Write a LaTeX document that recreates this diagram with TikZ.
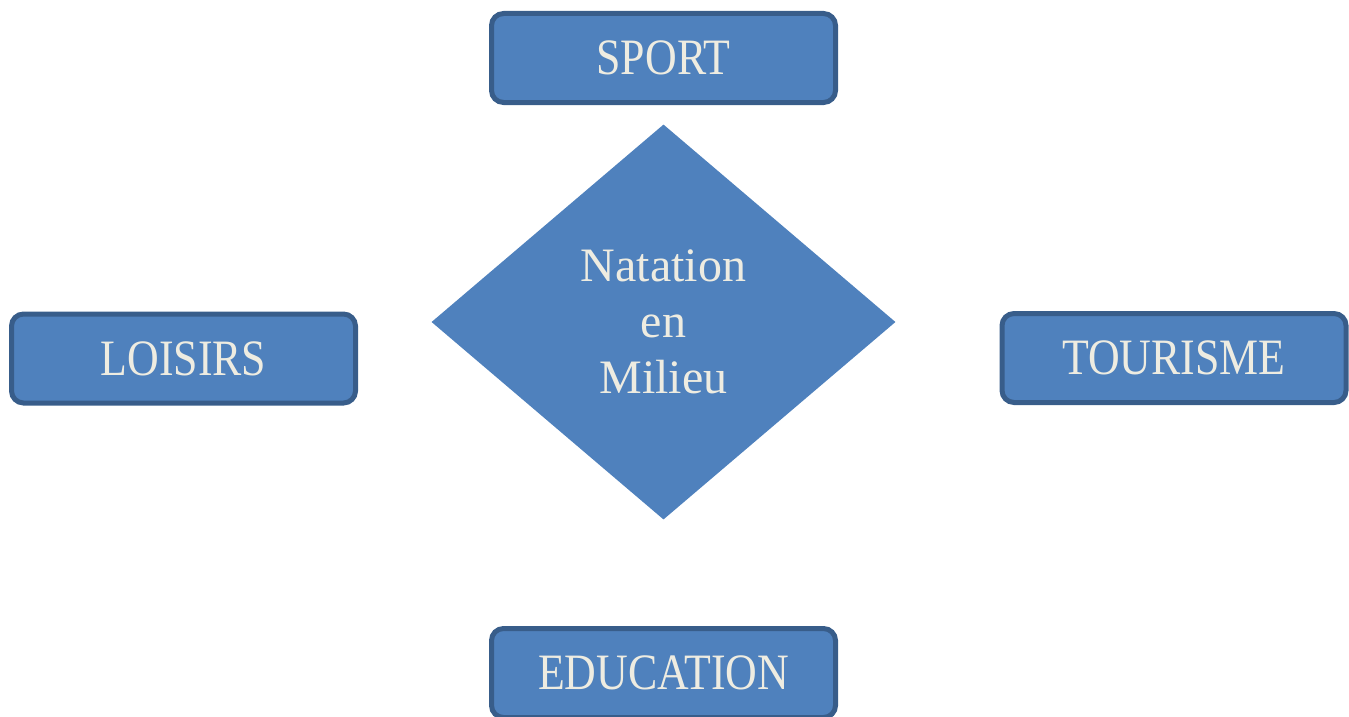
\documentclass[tikz,border=0pt]{standalone}
\usepackage{fontspec}
\setmainfont{Liberation Serif}
\newfontfamily\boxfont[FakeStretch=0.86]{Liberation Serif}
\usetikzlibrary{shapes.geometric}
\definecolor{fillblue}{HTML}{4F81BD}
\definecolor{edgeblue}{HTML}{385D8A}
\definecolor{txtcream}{HTML}{EEECE1}
\tikzset{
  catbox/.style={rectangle, rounded corners=12pt, draw=edgeblue, line width=5pt,
    fill=fillblue, text=txtcream, minimum width=344pt, minimum height=89pt,
    inner sep=0pt, font=\boxfont\fontsize{51}{56}\selectfont},
  centerdiamond/.style={diamond, fill=fillblue, text=txtcream, minimum width=464pt,
    minimum height=395pt, inner sep=0pt, align=center,
    font=\fontsize{48}{56}\selectfont}
}
\begin{document}
\begin{tikzpicture}[x=1pt,y=-1pt]
\clip (0,0) rectangle (1349,717);
\useasboundingbox (0,0) rectangle (1349,717);
\node[centerdiamond] (center) at (663.5,322) {Natation\\en\\Milieu};
\node[catbox] (sport) at (663.5,58) {SPORT};
\node[catbox] (loisirs) at (183.5,358.5) {LOISIRS};
\node[catbox] (tourisme) at (1174,358) {TOURISME};
\node[catbox] (education) at (663.5,673) {EDUCATION};
\end{tikzpicture}
\end{document}
